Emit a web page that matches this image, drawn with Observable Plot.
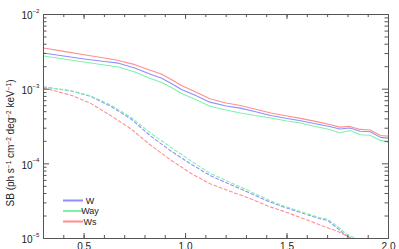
<!DOCTYPE html>
<html><head><meta charset="utf-8">
<script src="https://cdn.jsdelivr.net/npm/d3@7"></script>
<script src="https://cdn.jsdelivr.net/npm/@observablehq/plot@0.6"></script>
<style>body{margin:0;background:#fff;} svg{display:block;}</style>
</head><body><div id="chart"></div>
<script>
const seriesNames = ["W", "Way", "Ws"];
const seriesColors = ["#8f8fff", "#80f2aa", "#ff8f8f"];

const solidEnergy = [0.30,0.40,0.50,0.60,0.67,0.75,0.83,0.88,0.93,0.98,1.05,1.12,1.20,1.27,1.35,1.42,1.50,1.56,1.64,1.71,1.76,1.81,1.86,1.91,1.96,2.00];
const solidW   = [3.05e-3,2.78e-3,2.54e-3,2.35e-3,2.23e-3,1.92e-3,1.57e-3,1.41e-3,1.19e-3,9.91e-4,8.24e-4,6.70e-4,5.96e-4,5.57e-4,4.95e-4,4.45e-4,4.05e-4,3.81e-4,3.45e-4,3.17e-4,2.93e-4,3.02e-4,2.73e-4,2.69e-4,2.26e-4,2.21e-4];
const solidWay = [2.78e-3,2.54e-3,2.31e-3,2.11e-3,1.98e-3,1.70e-3,1.38e-3,1.24e-3,1.054e-3,8.76e-4,7.28e-4,5.92e-4,5.27e-4,4.80e-4,4.40e-4,4.11e-4,3.75e-4,3.55e-4,3.17e-4,2.89e-4,2.61e-4,2.80e-4,2.45e-4,2.42e-4,2.06e-4,1.95e-4];
const solidWs  = [3.56e-3,3.21e-3,2.89e-3,2.61e-3,2.42e-3,2.13e-3,1.78e-3,1.60e-3,1.35e-3,1.12e-3,9.17e-4,7.44e-4,6.53e-4,6.05e-4,5.35e-4,4.80e-4,4.38e-4,4.09e-4,3.70e-4,3.37e-4,3.10e-4,3.17e-4,2.89e-4,2.84e-4,2.40e-4,2.35e-4];

const dashEnergy = [0.30,0.33,0.44,0.53,0.63,0.73,0.83,0.93,1.03,1.12,1.22,1.32,1.41,1.47,1.56,1.66,1.70,1.75,1.79,1.84,1.89,1.95,2.00];
const dashW   = [1.07e-3,1.045e-3,9.4e-4,8.05e-4,5.92e-4,4.02e-4,2.33e-4,1.47e-4,9.8e-5,7.0e-5,5.3e-5,4.02e-5,3.14e-5,2.72e-5,2.26e-5,1.85e-5,1.75e-5,1.36e-5,1.10e-5,9.3e-6,8.0e-6,6.8e-6,6.0e-6];
const dashWay = [1.07e-3,1.05e-3,9.46e-4,8.17e-4,6.15e-4,4.22e-4,2.55e-4,1.65e-4,1.08e-4,7.5e-5,5.65e-5,4.25e-5,3.27e-5,2.80e-5,2.33e-5,1.90e-5,1.82e-5,1.45e-5,1.17e-5,9.9e-6,8.9e-6,7.5e-6,6.6e-6];
const dashWs  = [1.02e-3,9.9e-4,8.24e-4,6.50e-4,4.45e-4,2.95e-4,1.76e-4,1.11e-4,7.37e-5,5.42e-5,4.28e-5,3.41e-5,2.69e-5,2.38e-5,1.94e-5,1.53e-5,1.39e-5,1.24e-5,1.10e-5,9.5e-6,8.6e-6,7.5e-6,6.7e-6];

const xTickLabels = [0.5, 1.0, 1.5, 2.0];
const xMinorTicks = [0.4,0.5,0.6,0.7,0.8,0.9,1.0,1.1,1.2,1.3,1.4,1.5,1.6,1.7,1.8,1.9];
const yMajorTicks = [1e-5, 1e-4, 1e-3, 1e-2];
const yMinorMult = [2,3,4,5,6,7,8,9];

const solidRows = [];
[solidW, solidWay, solidWs].forEach((arr, i) => arr.forEach((v, j) => solidRows.push({x: solidEnergy[j], y: v, s: seriesNames[i]})));
const dashRows = [];
[dashW, dashWay, dashWs].forEach((arr, i) => arr.forEach((v, j) => dashRows.push({x: dashEnergy[j], y: v, s: seriesNames[i]})));
const yMinorTicks = [];
yMajorTicks.slice(0, 3).forEach(d => yMinorMult.forEach(m => yMinorTicks.push(d * m)));

const W = 399, H = 249, mL = 43, mR = 11, mT = 14, mB = 11;
const pw = W - mL - mR, ph = H - mT - mB;
const axisColor = "#555";
const font = "Liberation Sans, Arial, Helvetica, sans-serif";

const chart = Plot.plot({
  width: W, height: H,
  marginLeft: mL, marginRight: mR, marginTop: mT, marginBottom: mB,
  style: {fontFamily: font, background: "#fff", color: "#222"},
  x: {domain: [0.3, 2.0], axis: null},
  y: {type: "log", domain: [1e-5, 1e-2], axis: null},
  color: {domain: seriesNames, range: seriesColors},
  marks: [
    Plot.line(solidRows, {x: "x", y: "y", z: "s", stroke: "s", strokeWidth: 1.1, clip: true}),
    Plot.line(dashRows, {x: "x", y: "y", z: "s", stroke: "s", strokeWidth: 1.1, strokeDasharray: "3,2.5", clip: true}),
    Plot.frame({stroke: axisColor}),
    Plot.tickY(yMajorTicks, {y: d => d, stroke: axisColor, insetRight: pw - 6}),
    Plot.tickY(yMajorTicks, {y: d => d, stroke: axisColor, insetLeft: pw - 6}),
    Plot.tickY(yMinorTicks, {y: d => d, stroke: axisColor, insetRight: pw - 3.5}),
    Plot.tickY(yMinorTicks, {y: d => d, stroke: axisColor, insetLeft: pw - 3.5}),
    Plot.tickX(xTickLabels, {x: d => d, stroke: axisColor, insetTop: ph - 5}),
    Plot.tickX(xTickLabels, {x: d => d, stroke: axisColor, insetBottom: ph - 5}),
    Plot.tickX(xMinorTicks, {x: d => d, stroke: axisColor, insetTop: ph - 3}),
    Plot.tickX(xMinorTicks, {x: d => d, stroke: axisColor, insetBottom: ph - 3}),
    Plot.text(yMajorTicks, {y: d => d, frameAnchor: "left", text: () => "10", textAnchor: "end", dx: -11, dy: 1.5, fontSize: 10, fill: "#222"}),
    Plot.text(yMajorTicks, {y: d => d, frameAnchor: "left", text: d => "\u2212" + Math.round(-Math.log10(d)), textAnchor: "start", dx: -11, dy: -3.5, fontSize: 6, fill: "#222"}),
    Plot.text(xTickLabels, {x: d => d, frameAnchor: "bottom", text: d => d.toFixed(1), lineAnchor: "top", dy: 4, fontSize: 10, fill: "#222"})
  ]
});

document.getElementById("chart").appendChild(chart);

const svg = d3.select(chart);
const lab = svg.append("text")
  .attr("transform", "translate(14,143) rotate(-90)")
  .attr("text-anchor", "middle")
  .attr("font-family", font)
  .attr("font-size", 10)
  .attr("fill", "#222");
const parts = [["SB (ph s", false], ["-1", true], [" cm", false], ["-2", true], [" deg", false], ["-2", true], [" keV", false], ["-1", true], [")", false]];
parts.forEach(([t, sup]) => {
  const ts = lab.append("tspan").text(t.replace("-", "\u2212"));
  if (sup) ts.attr("font-size", 6.5).attr("baseline-shift", "super");
});

const lg = svg.append("g").attr("font-family", font).attr("font-size", 9).attr("fill", "#222");
const legendY = [200.5, 211, 221.5];
seriesNames.forEach((n, i) => {
  lg.append("line").attr("x1", 63).attr("x2", 83).attr("y1", legendY[i]).attr("y2", legendY[i])
    .attr("stroke", seriesColors[i]).attr("stroke-width", 2);
  lg.append("text").attr("x", 90).attr("y", legendY[i]).attr("dy", "0.35em").text(n);
});
</script>
</body></html>
